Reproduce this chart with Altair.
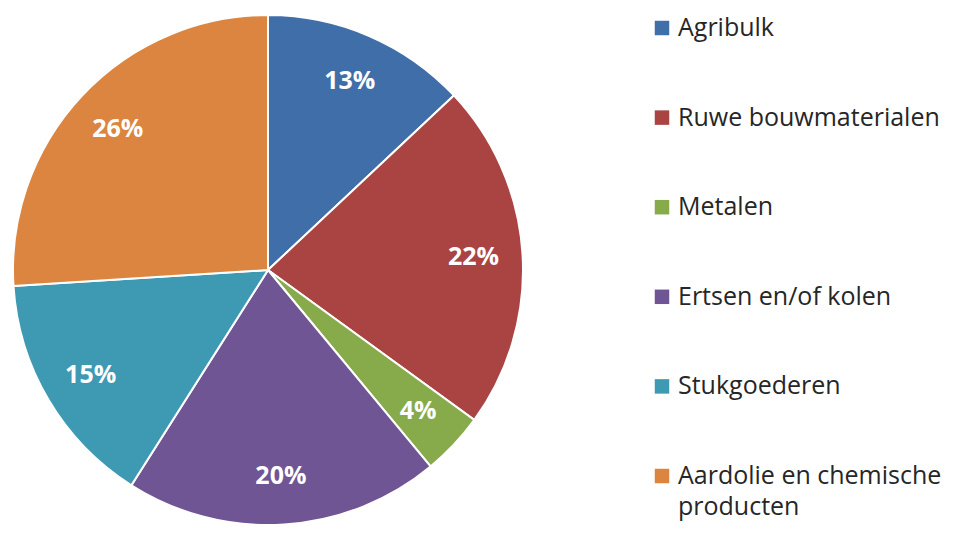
import altair as alt
import pandas as pd

categories = ["Agribulk", "Ruwe bouwmaterialen", "Metalen", "Ertsen en/of kolen",
              "Stukgoederen", "Aardolie en chemische producten"]
values = [13, 22, 4, 20, 15, 26]
colors = ["#3F6EA9", "#A94443", "#87AA4B", "#705594", "#3E99B3", "#DC8540"]
legend_line1 = ["Agribulk", "Ruwe bouwmaterialen", "Metalen", "Ertsen en/of kolen",
                "Stukgoederen", "Aardolie en chemische"]
legend_line2 = ["", "", "", "", "", "producten"]

df = pd.DataFrame({"cat": categories, "val": values, "order": list(range(len(values)))})
df["label"] = df["val"].astype(str) + "%"
leg = pd.DataFrame({"cat": categories, "l1": legend_line1, "l2": legend_line2})

cx, cy = 260, 262
color = alt.Color("cat:N", scale=alt.Scale(domain=categories, range=colors), legend=None)

base = alt.Chart(df).encode(
    theta=alt.Theta("val:Q", stack=True),
    order=alt.Order("order:Q"),
)

pie = base.mark_arc(outerRadius=255, stroke="white", strokeWidth=2).encode(
    x=alt.value(cx), y=alt.value(cy), color=color,
)

text = base.mark_text(radius=206, fontSize=25, fontWeight="bold", font="Open Sans",
                      color="white").encode(
    x=alt.value(cx), y=alt.value(cy),
    text="label:N",
)

ly = alt.Y("cat:N", scale=alt.Scale(domain=categories, range=[20, 468], padding=0), axis=None)
lbase = alt.Chart(leg).encode(y=ly)
squares = lbase.mark_square(size=210, opacity=1).encode(x=alt.value(654), color=color)
lab1 = lbase.mark_text(align="left", baseline="middle", fontSize=25, font="Open Sans",
                       color="#262626").encode(x=alt.value(670), text="l1:N")
lab2 = lbase.mark_text(align="left", baseline="middle", fontSize=25, font="Open Sans",
                       color="#262626", dy=31).encode(x=alt.value(670), text="l2:N")

chart = (pie + text + squares + lab1 + lab2).properties(
    width=945, height=518, autosize="none", padding=0
).configure_view(stroke=None)
chart.save("out.html", embed_options={"renderer": "svg", "actions": False})
